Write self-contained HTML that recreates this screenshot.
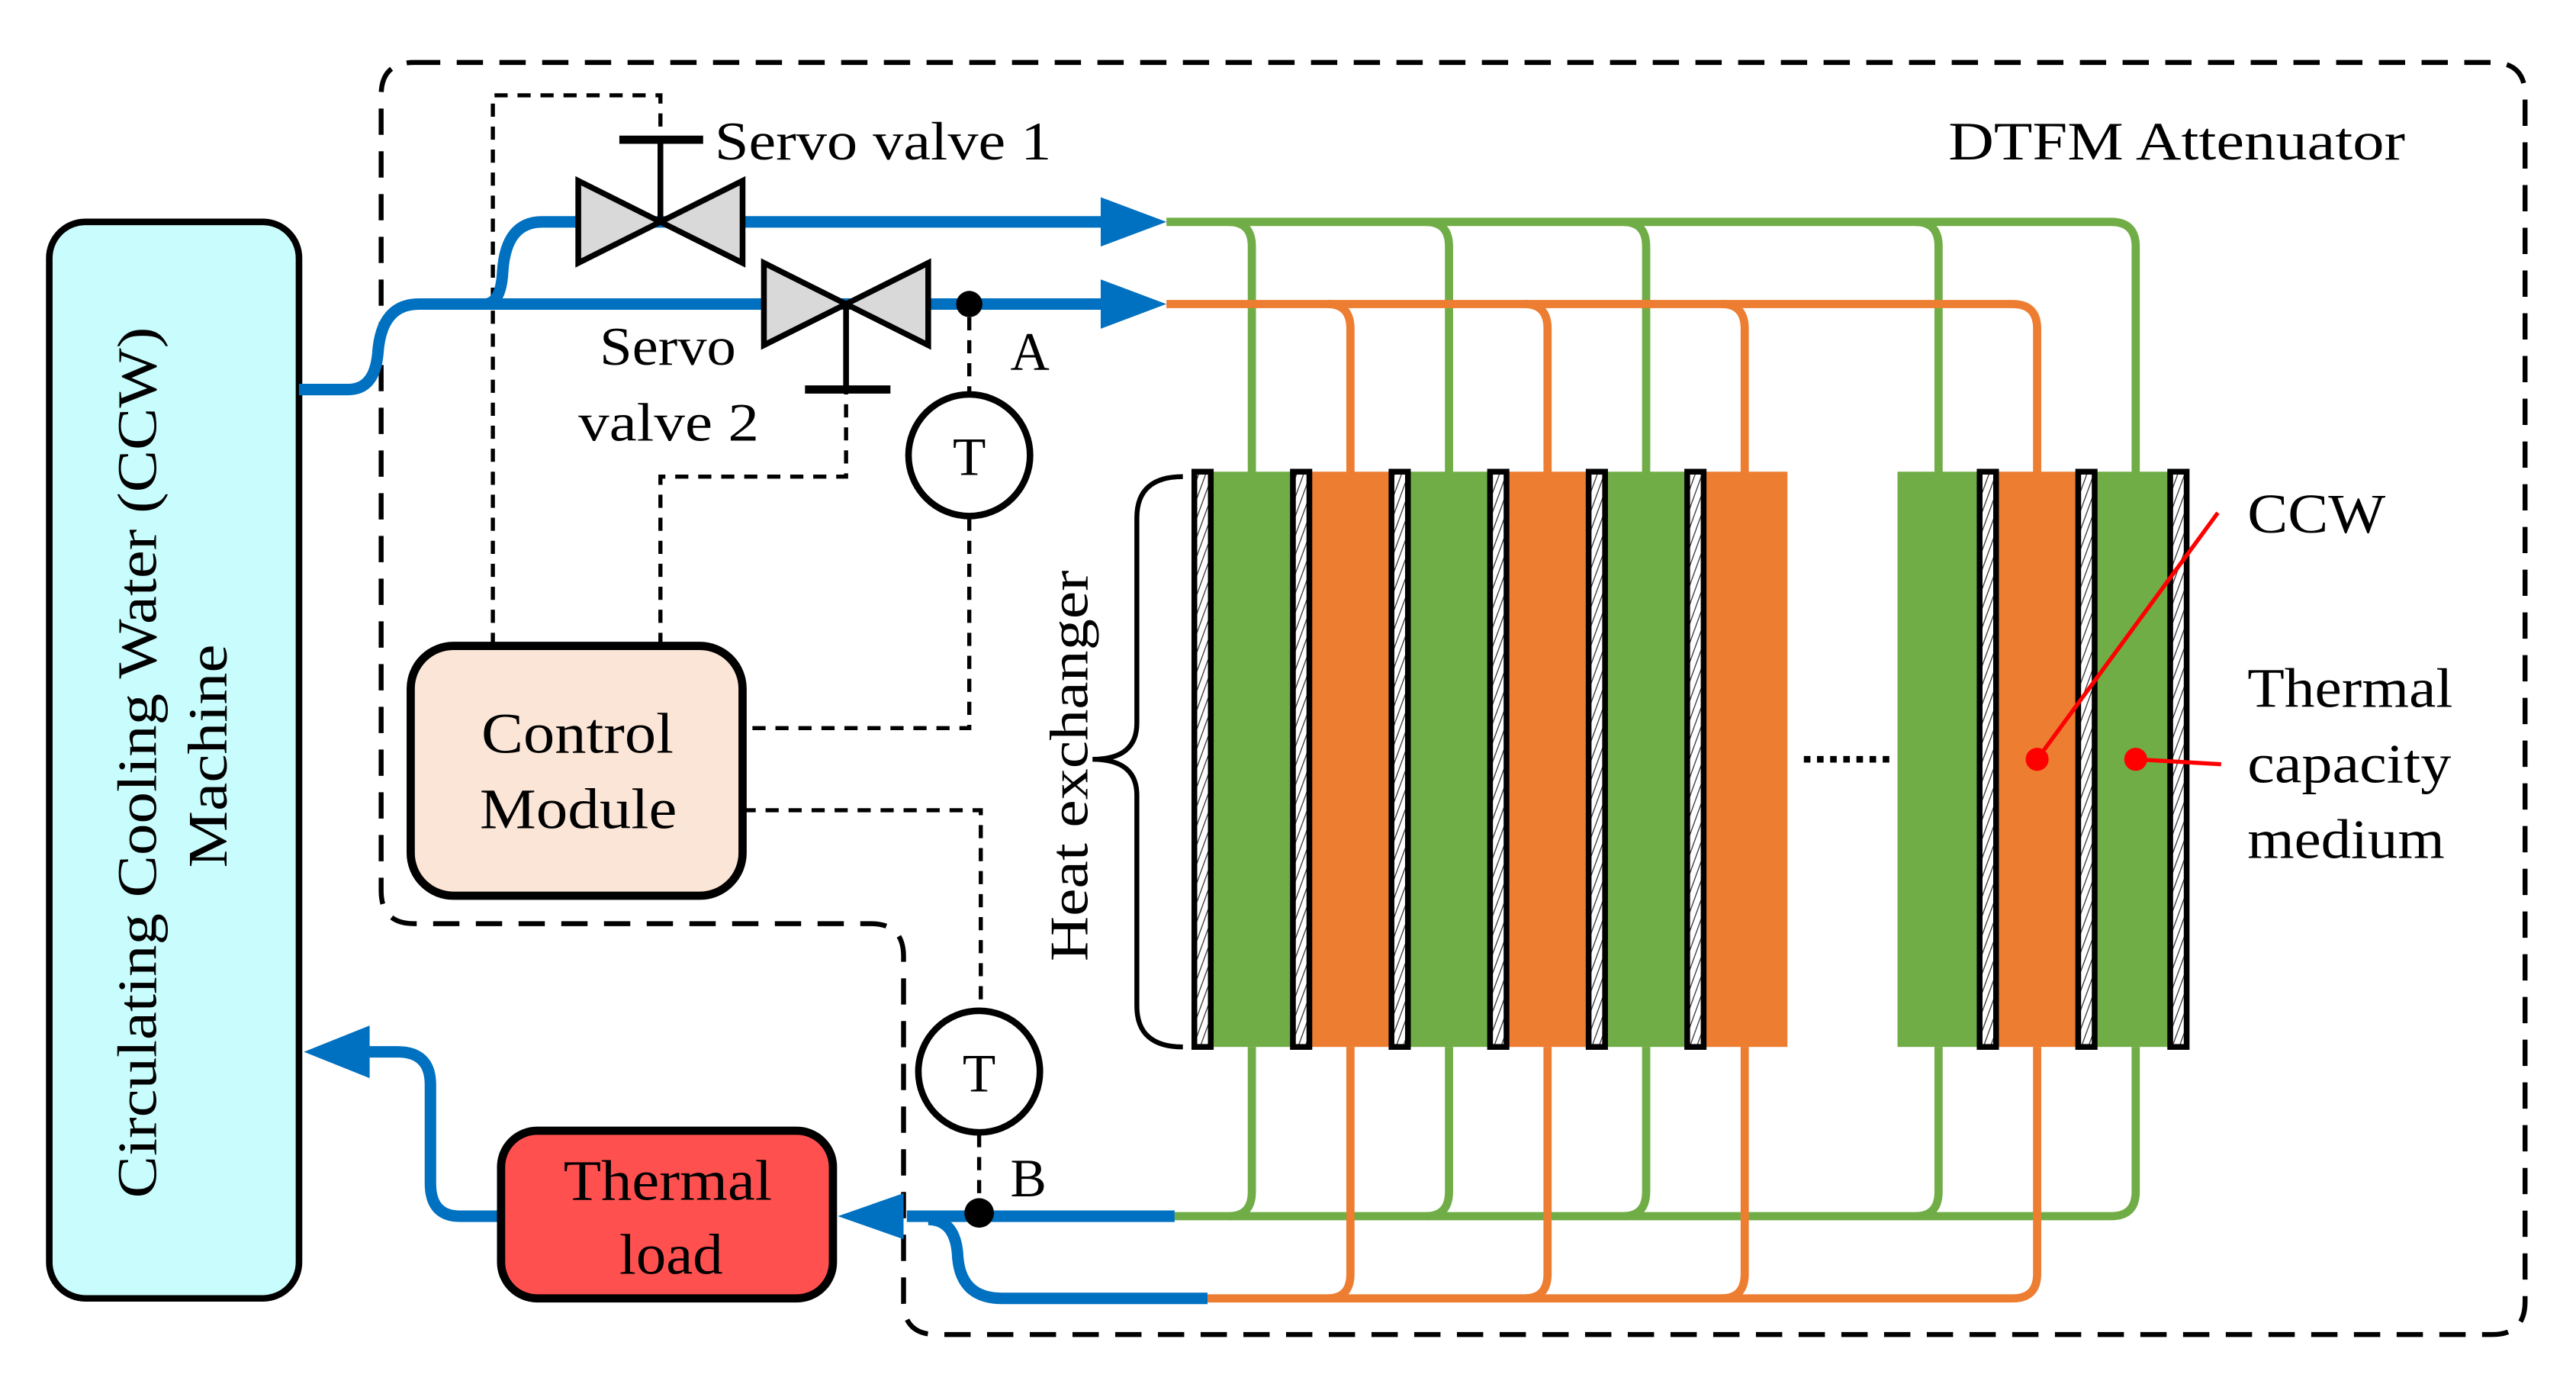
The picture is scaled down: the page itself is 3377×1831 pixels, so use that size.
<!DOCTYPE html>
<html><head><meta charset="utf-8"><style>
html,body{margin:0;padding:0;background:#fff}
svg{display:block}
text{font-family:"Liberation Serif","DejaVu Serif","Times New Roman",serif;fill:#000}
</style></head><body>
<svg width="3377" height="1831" viewBox="0 0 1568 850" preserveAspectRatio="none" xmlns="http://www.w3.org/2000/svg">
<defs>
<pattern id="h" width="4" height="4" patternUnits="userSpaceOnUse" patternTransform="rotate(20)">
<rect width="4" height="4" fill="#fff"/><line x1="0" y1="0" x2="0" y2="4" stroke="#333" stroke-width="1.2"/>
</pattern>
</defs>
<path d="M252 38 H1517 Q1537 38 1537 58 V792 Q1537 812 1517 812 H570 Q550 812 550 792 V582 Q550 562 530 562 H252 Q232 562 232 542 V58 Q232 38 252 38 Z" fill="none" stroke="#000" stroke-width="3" stroke-dasharray="16,10"/>
<text x="1186" y="97" font-size="33" textLength="278" lengthAdjust="spacingAndGlyphs">DTFM Attenuator</text>

<rect x="30" y="135" width="152" height="655" rx="22" fill="#c9fcfc" stroke="#000" stroke-width="4"/>
<text transform="translate(95,464) rotate(-90)" font-size="34" text-anchor="middle" textLength="530" lengthAdjust="spacingAndGlyphs">Circulating Cooling Water (CCW)</text>
<text transform="translate(138,460) rotate(-90)" font-size="34" text-anchor="middle" textLength="136" lengthAdjust="spacingAndGlyphs">Machine</text>

<g fill="none" stroke="#000" stroke-width="2.5" stroke-dasharray="8,6">
<path d="M300 393 V58 H402 V85"/>
<path d="M402 393 V290 H515 V237"/>
<path d="M590 193 V240"/>
<path d="M590 315 V443 H452"/>
<path d="M452 493 H597 V614"/>
<path d="M596 690 V738"/>
</g>

<g fill="none" stroke-width="5">
<path d="M710 135 H1285 Q1300 135 1300 150 V290" stroke="#70ad47"/>
<path d="M748 135 Q762 135 762 150 V290 M868 135 Q882 135 882 150 V290 M988 135 Q1002 135 1002 150 V290 M1166 135 Q1180 135 1180 150 V290" stroke="#70ad47"/>
<path d="M710 185 H1225 Q1240 185 1240 200 V290" stroke="#ed7d31"/>
<path d="M808 185 Q822 185 822 200 V290 M928 185 Q942 185 942 200 V290 M1048 185 Q1062 185 1062 200 V290" stroke="#ed7d31"/>
<path d="M715 740 H1285 Q1300 740 1300 725 V637" stroke="#70ad47"/>
<path d="M748 740 Q762 740 762 725 V637 M868 740 Q882 740 882 725 V637 M988 740 Q1002 740 1002 725 V637 M1166 740 Q1180 740 1180 725 V637" stroke="#70ad47"/>
<path d="M735 790 H1225 Q1240 790 1240 775 V637" stroke="#ed7d31"/>
<path d="M808 790 Q822 790 822 775 V637 M928 790 Q942 790 942 775 V637 M1048 790 Q1062 790 1062 775 V637" stroke="#ed7d31"/>
</g>

<g fill="none" stroke="#0070c0" stroke-width="7">
<path d="M182 237 H212 Q228 237 230 215 Q232 185 255 185 H672"/>
<path d="M295 185 Q305 185 306 165 Q308 135 330 135 H672"/>
<path d="M715 740 H552"/>
<path d="M305 740 H280 Q262 740 262 720 V660 Q262 640 242 640 H222"/>
<path d="M565 742 Q582 742 583 765 Q585 790 610 790 H735"/>
</g>
<polygon points="670,120 710,135 670,150" fill="#0070c0"/>
<polygon points="670,170 710,185 670,200" fill="#0070c0"/>
<polygon points="550,726 510,740 550,754" fill="#0070c0"/>
<polygon points="225,624 185,640 225,656" fill="#0070c0"/>

<g stroke="#000" stroke-width="3.5" fill="#d9d9d9">
<polygon points="352,110 452,160 452,110 352,160"/>
<polygon points="465,160 565,210 565,160 465,210"/>
</g>
<g stroke="#000" stroke-width="3.5">
<line x1="402" y1="135" x2="402" y2="85"/><line x1="377" y1="85" x2="428" y2="85" stroke-width="5"/>
<line x1="515" y1="185" x2="515" y2="237"/><line x1="490" y1="237" x2="542" y2="237" stroke-width="5"/>
</g>
<text x="435" y="97" font-size="33" textLength="205" lengthAdjust="spacingAndGlyphs">Servo valve 1</text>
<text x="365" y="222" font-size="33" textLength="83" lengthAdjust="spacingAndGlyphs">Servo</text>
<text x="352" y="268" font-size="33" textLength="110" lengthAdjust="spacingAndGlyphs">valve 2</text>

<circle cx="590" cy="185" r="8" fill="#000"/>
<text x="615" y="225" font-size="33">A</text>
<circle cx="590" cy="277" r="37" fill="#fff" stroke="#000" stroke-width="4"/>
<text x="590" y="289" font-size="33" text-anchor="middle">T</text>
<circle cx="596" cy="652" r="37" fill="#fff" stroke="#000" stroke-width="4"/>
<text x="596" y="664" font-size="33" text-anchor="middle">T</text>
<circle cx="596" cy="738" r="9" fill="#000"/>
<text x="615" y="728" font-size="33">B</text>

<rect x="250" y="393" width="202" height="152" rx="26" fill="#fbe5d6" stroke="#000" stroke-width="5"/>
<text x="293" y="458" font-size="35" textLength="117" lengthAdjust="spacingAndGlyphs">Control</text>
<text x="292" y="504" font-size="35" textLength="120" lengthAdjust="spacingAndGlyphs">Module</text>

<rect x="305" y="688" width="202" height="102" rx="22" fill="#ff5050" stroke="#000" stroke-width="5"/>
<text x="343" y="730" font-size="35" textLength="127" lengthAdjust="spacingAndGlyphs">Thermal</text>
<text x="377" y="775" font-size="35" textLength="63" lengthAdjust="spacingAndGlyphs">load</text>

<rect x="732" y="287" width="60" height="350" fill="#70ad47"/>
<rect x="792" y="287" width="60" height="350" fill="#ed7d31"/>
<rect x="852" y="287" width="60" height="350" fill="#70ad47"/>
<rect x="912" y="287" width="60" height="350" fill="#ed7d31"/>
<rect x="972" y="287" width="60" height="350" fill="#70ad47"/>
<rect x="1032" y="287" width="56" height="350" fill="#ed7d31"/>
<rect x="1155" y="287" width="55" height="350" fill="#70ad47"/>
<rect x="1210" y="287" width="60" height="350" fill="#ed7d31"/>
<rect x="1270" y="287" width="58" height="350" fill="#70ad47"/>
<g fill="url(#h)" stroke="#000" stroke-width="3.5">
<rect x="727" y="287" width="10" height="350"/>
<rect x="787" y="287" width="10" height="350"/>
<rect x="847" y="287" width="10" height="350"/>
<rect x="907" y="287" width="10" height="350"/>
<rect x="967" y="287" width="10" height="350"/>
<rect x="1027" y="287" width="10" height="350"/>
<rect x="1205" y="287" width="10" height="350"/>
<rect x="1265" y="287" width="10" height="350"/>
<rect x="1321" y="287" width="10" height="350"/>
</g>
<line x1="1098" y1="462" x2="1152" y2="462" stroke="#000" stroke-width="4" stroke-dasharray="4,4"/>

<path d="M720 290 Q692 290 692 315 V440 Q692 462 665 462 Q692 462 692 484 V612 Q692 637 720 637" fill="none" stroke="#000" stroke-width="3"/>
<text transform="translate(662,466) rotate(-90)" font-size="33" text-anchor="middle" textLength="238" lengthAdjust="spacingAndGlyphs">Heat exchanger</text>

<line x1="1350" y1="312" x2="1240" y2="462" stroke="#f00" stroke-width="2.5"/>
<circle cx="1240" cy="462" r="7" fill="#f00"/>
<line x1="1300" y1="462" x2="1352" y2="465" stroke="#f00" stroke-width="2.5"/>
<circle cx="1300" cy="462" r="7" fill="#f00"/>
<text x="1368" y="324" font-size="34" textLength="84" lengthAdjust="spacingAndGlyphs">CCW</text>
<text x="1368" y="430" font-size="34" textLength="125" lengthAdjust="spacingAndGlyphs">Thermal</text>
<text x="1368" y="476" font-size="34" textLength="124" lengthAdjust="spacingAndGlyphs">capacity</text>
<text x="1368" y="522" font-size="34" textLength="120" lengthAdjust="spacingAndGlyphs">medium</text>
</svg>
</body></html>
